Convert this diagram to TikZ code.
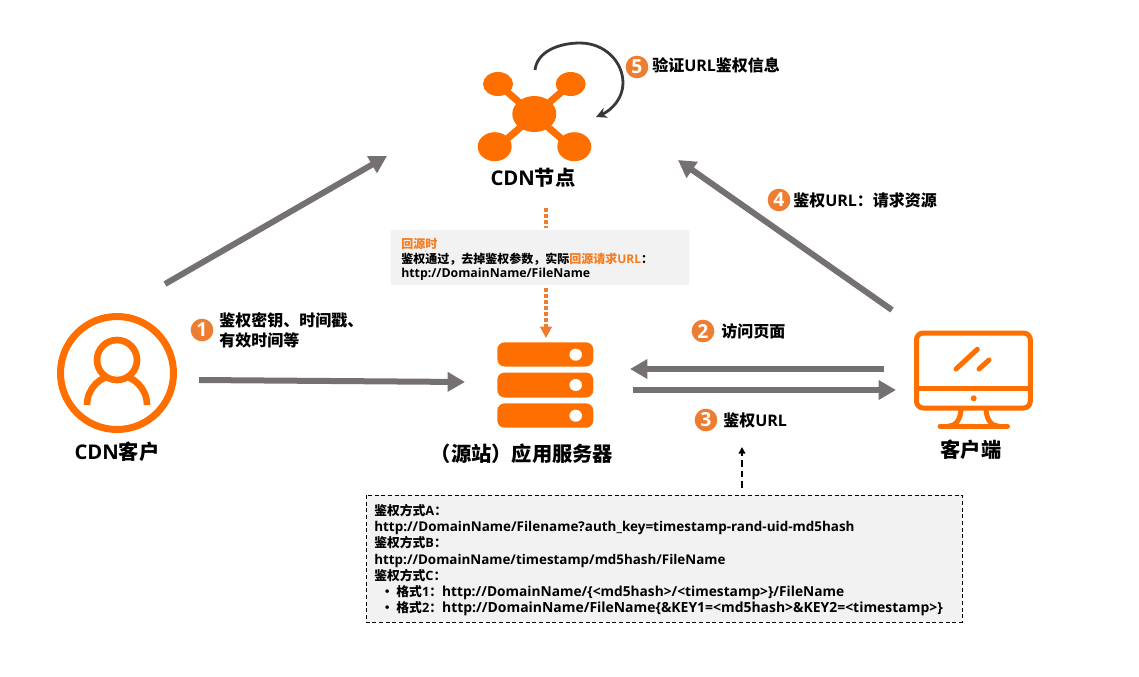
\documentclass[tikz,border=0pt]{standalone}
\usepackage{fontspec}
\setmainfont{Noto Sans CJK SC}
\newfontfamily\enfont{Open Sans}
\newcommand{\en}[1]{{\enfont\bfseries #1}}
\newcommand{\enp}[2][10.05]{{\enfont\bfseries\fontsize{#1}{12.15}\selectfont #2}}
\usetikzlibrary{arrows.meta}
\definecolor{iconorange}{HTML}{FF6F00}
\definecolor{stepgold}{HTML}{ED7D31}
\definecolor{backorange}{HTML}{F57C1F}
\definecolor{flowgrey}{HTML}{767171}
\definecolor{panelgrey}{HTML}{F2F2F2}
\tikzset{
	icon line/.style={draw=iconorange,line width=3.75pt},
	flow/.style={draw=flowgrey,line width=4.5pt,-{Triangle[length=13pt,width=14pt]}},
	back dots/.style={draw=stepgold,line width=3pt,dash pattern=on 3pt off 1.5pt},
	step dot/.style={circle,fill=stepgold,text=white,inner sep=0pt,minimum size=17pt,font=\bfseries\fontsize{14.5}{14.5}\selectfont},
	step text/.style={anchor=west,inner sep=0pt,align=left,font=\bfseries\fontsize{12}{15}\selectfont},
	icon title/.style={inner sep=0pt,font=\bfseries\fontsize{15.2}{17}\selectfont},
	panel text/.style={anchor=north west,inner sep=0pt,align=left,font=\bfseries\fontsize{9.6}{12.15}\selectfont}
}

\begin{document}
\begin{tikzpicture}[x=0.75pt,y=0.75pt,yscale=-1,xscale=1]
	\useasboundingbox (0,0) rectangle (1139,676);

	%Shape: CDN node
	\draw [icon line,line width=5.25pt] (498,84) -- (570.7,146.7) (570.7,84) -- (498,146.7);
	\fill [iconorange] (534.3,114) ellipse (22 and 18);
	\fill [iconorange] (498,84) ellipse (15 and 12);
	\fill [iconorange] (570.7,84) ellipse (15 and 12);
	\fill [iconorange] (494.7,146.7) ellipse (17 and 14.5);
	\fill [iconorange] (574.3,146.7) ellipse (17 and 14.5);
	\node [icon title] (cdnname) at (533,178) {\en{CDN}节点};

	%Curve Lines
	\coordinate (selfstart) at (535,70);
	\coordinate (selfend) at (596,117);
	\draw [draw={rgb, 255:red, 59; green, 56; blue, 56 },line width=2.1pt,-{Stealth[length=8pt,width=8pt]}] (selfstart) .. controls (537,52) and (558,43) .. (580,43) .. controls (605,43) and (623,62) .. (623,83) .. controls (623,98) and (612,110) .. (selfend);

	%Shape: customer
	\draw [icon line,line width=5.25pt] (117,373) circle (56.5);
	\draw [icon line,line width=5pt] (87,405) arc (180:360:30);
	\draw [icon line,line width=5pt,fill=white] (117,360) circle (20);
	\node [icon title] (customername) at (117,452) {\en{CDN}客户};

	%Shape: server
	\fill [iconorange,rounded corners=5.5pt] (497.3,342.3) rectangle (593.3,366.5);
	\fill [iconorange,rounded corners=5.5pt] (497.3,372.5) rectangle (593.3,397.5);
	\fill [iconorange,rounded corners=5.5pt] (497.3,403.3) rectangle (593.3,427.7);
	\fill [white] (575.7,354.7) ellipse (6.3 and 6);
	\fill [white] (575.7,385) ellipse (6.3 and 6);
	\fill [white] (575.7,415.7) ellipse (6.3 and 6);
	\node [icon title] (servername) at (522,454) {（源站）应用服务器};

	%Shape: monitor
	\draw [icon line,rounded corners=5pt] (916.5,333) rectangle (1030.3,408);
	\draw [icon line] (916.5,388) -- (1030.3,388);
	\fill [iconorange] (973.7,398.3) circle (3);
	\draw [icon line,line cap=round] (956,369) -- (977.3,349.3);
	\draw [icon line,line cap=round] (979,369) -- (989,360);
	\draw [icon line] (961,408) .. controls (961,420) and (955,426.3) .. (948,426.3);
	\draw [icon line] (986,408) .. controls (986,420) and (992,426.3) .. (999,426.3);
	\draw [icon line,line cap=round] (940,426.3) -- (1007.5,426.3);
	\node [icon title] (clientname) at (971,450) {客户端};

	%Straight Lines
	\coordinate (flowAstart) at (165,284);
	\coordinate (flowAend) at (387,156);
	\draw [flow] (flowAstart) -- (flowAend);
	\coordinate (flowBstart) at (199,380);
	\coordinate (flowBend) at (465,382);
	\draw [flow] (flowBstart) -- (flowBend);
	\coordinate (flowCstart) at (884,369);
	\coordinate (flowCend) at (630,369);
	\draw [flow] (flowCstart) -- (flowCend);
	\coordinate (flowDstart) at (633,390);
	\coordinate (flowDend) at (896,390);
	\draw [flow] (flowDstart) -- (flowDend);
	\coordinate (flowEstart) at (892,310);
	\coordinate (flowEend) at (678,160);
	\draw [flow] (flowEstart) -- (flowEend);

	%Shape: back to origin panel
	\fill [panelgrey] (391,230) rectangle (689,285);
	\node [panel text,font=\bfseries\fontsize{9}{11}\selectfont] (backtext) at (401,238) {\textcolor{backorange}{回源时}\\鉴权通过，去掉鉴权参数，实际\textcolor{backorange}{回源请求\en{URL}}：\\\enp[9.25]{http://DomainName/FileName}};
	\coordinate (dotsAstart) at (546,208);
	\coordinate (dotsAend) at (546,228);
	\draw [back dots] (dotsAstart) -- (dotsAend);
	\coordinate (dotsBstart) at (546,288);
	\coordinate (dotsBend) at (546,338);
	\draw [back dots,-{Triangle[length=8.5pt,width=8.5pt]}] (dotsBstart) -- (dotsBend);

	%Shape: signing methods panel
	\draw [fill=panelgrey,draw=black,line width=0.75pt,dash pattern=on 3pt off 2pt] (366,495) rectangle (962,622);
	\node [panel text] (methodtext) at (374,504) {鉴权方式\en{A}：\\
		\enp[10.1]{http://DomainName/Filename?auth\_key=timestamp-rand-uid-md5hash}\\
		鉴权方式\en{B}：\\
		\enp{http://DomainName/timestamp/md5hash/FileName}\\
		鉴权方式\en{C}：\\
		\hspace*{5pt}・\hspace{2pt}格式\en{1}：\enp[10.3]{http://DomainName/\{<md5hash>/<timestamp>\}/FileName}\\
		\hspace*{5pt}・\hspace{2pt}格式\en{2}：\enp[10.45]{http://DomainName/FileName\{\&KEY1=<md5hash>\&KEY2=<timestamp>\}}};
	\coordinate (hintstart) at (742,488);
	\coordinate (hintend) at (742,447);
	\draw [line width=1.2pt,dash pattern=on 5pt off 3pt,-{Triangle[length=5pt,width=5pt]}] (hintstart) -- (hintend);

	% Text Node
	\node [step dot] (stepone) at (202,330) {\en{1}};
	\node [step text] (steponetext) at (219,330) {鉴权密钥、时间戳、\\有效时间等};
	\node [step dot] (steptwo) at (703,331) {\en{2}};
	\node [step text] (steptwotext) at (721,331) {访问页面};
	\node [step dot] (stepthree) at (706,420) {\en{3}};
	\node [step text] (stepthreetext) at (723,420) {鉴权\en{URL}};
	\node [step dot] (stepfour) at (779,200) {\en{4}};
	\node [step text] (stepfourtext) at (793,200) {鉴权\en{URL}：请求资源};
	\node [step dot] (stepfive) at (637,67) {\en{5}};
	\node [step text] (stepfivetext) at (652,65) {验证\en{URL}鉴权信息};

\end{tikzpicture}
\end{document}
